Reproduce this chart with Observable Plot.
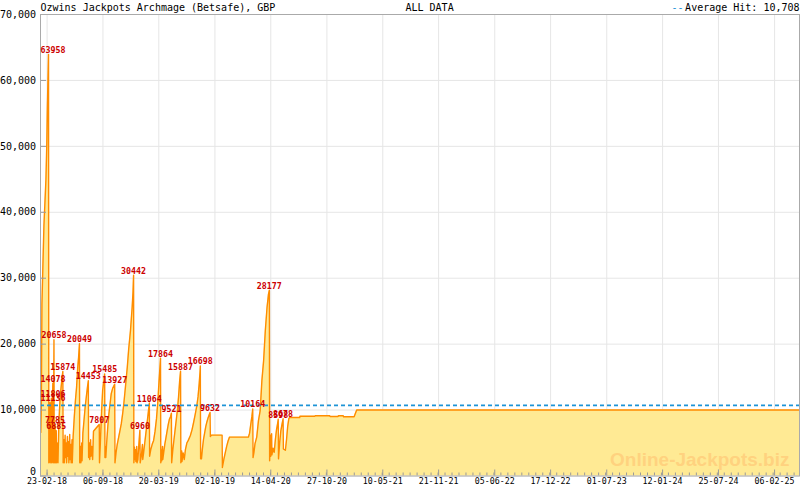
<!DOCTYPE html>
<html><head><meta charset="utf-8">
<script src="https://cdn.jsdelivr.net/npm/d3@7"></script>
<script src="https://cdn.jsdelivr.net/npm/@observablehq/plot@0.6"></script>
<style>
html,body{margin:0;padding:0;background:#fff;}
#chart svg{display:block;}
</style></head><body><div id="chart"></div>
<script>
const title = "Ozwins Jackpots Archmage (Betsafe), GBP";
const periodLabel = "ALL DATA";
const avgLabel = "Average Hit: 10,708";
const avgHit = 10708;
const watermark = "Online-Jackpots.biz";
const xDomain = ["2018-01-31", "2025-05-04"];
const yTicks = [0, 10000, 20000, 30000, 40000, 50000, 60000, 70000];
const xTickLabels = ["23-02-18","06-09-18","20-03-19","02-10-19","14-04-20","27-10-20","10-05-21","21-11-21","05-06-22","17-12-22","01-07-23","12-01-24","25-07-24","06-02-25"];

const dates = [
"2018-02-01","2018-02-03","2018-02-05","2018-02-09","2018-02-12","2018-02-16","2018-02-19","2018-02-22","2018-02-24","2018-02-26",
"2018-02-28","2018-03-01","2018-03-05","2018-03-06","2018-03-10","2018-03-11","2018-03-15","2018-03-16","2018-03-18","2018-03-19",
"2018-03-20","2018-03-23","2018-03-24","2018-03-27","2018-03-28","2018-04-01","2018-04-02","2018-04-05","2018-04-09","2018-04-13",
"2018-04-16","2018-04-19","2018-04-20","2018-04-23","2018-04-24","2018-04-27","2018-04-28","2018-05-01","2018-05-02","2018-05-05",
"2018-05-06","2018-05-09","2018-05-10","2018-05-13","2018-05-14","2018-05-17","2018-05-18","2018-05-21","2018-05-22","2018-05-25",
"2018-05-29","2018-06-02","2018-06-06","2018-06-10","2018-06-13","2018-06-16","2018-06-17","2018-06-20","2018-06-21","2018-06-24",
"2018-06-25","2018-06-28","2018-07-02","2018-07-06","2018-07-10","2018-07-14","2018-07-17","2018-07-18","2018-07-21","2018-07-22",
"2018-07-25","2018-07-26","2018-07-29","2018-08-01","2018-08-04","2018-08-12","2018-08-18","2018-08-24","2018-08-25","2018-08-28",
"2018-09-01","2018-09-05","2018-09-12","2018-09-13","2018-09-15","2018-09-16","2018-09-19","2018-09-23","2018-09-27","2018-10-01",
"2018-10-05","2018-10-10","2018-10-17","2018-10-18","2018-10-22","2018-10-26","2018-10-31","2018-11-05","2018-11-09","2018-11-14",
"2018-11-18","2018-11-24","2018-11-30","2018-12-05","2018-12-11","2018-12-17","2018-12-20","2018-12-22","2018-12-23","2018-12-25",
"2018-12-26","2018-12-29","2018-12-30","2019-01-02","2019-01-03","2019-01-06","2019-01-09","2019-01-13","2019-01-14","2019-01-18",
"2019-01-22","2019-01-23","2019-01-26","2019-01-30","2019-02-03","2019-02-07","2019-02-11","2019-02-15","2019-02-16","2019-02-20",
"2019-02-25","2019-03-02","2019-03-07","2019-03-12","2019-03-17","2019-03-21","2019-03-24","2019-03-26","2019-03-27","2019-03-29",
"2019-03-30","2019-04-02","2019-04-03","2019-04-06","2019-04-10","2019-04-14","2019-04-18","2019-04-22","2019-04-26","2019-04-30",
"2019-05-03","2019-05-04","2019-05-08","2019-05-12","2019-05-16","2019-05-20","2019-05-24","2019-05-28","2019-06-01","2019-06-04",
"2019-06-05","2019-06-08","2019-06-09","2019-06-13","2019-06-17","2019-06-21","2019-06-26","2019-07-01","2019-07-08","2019-07-14",
"2019-07-19","2019-07-25","2019-07-31","2019-08-04","2019-08-08","2019-08-11","2019-08-12","2019-08-13","2019-08-15","2019-08-16",
"2019-08-19","2019-08-23","2019-08-27","2019-08-31","2019-09-04","2019-09-08","2019-09-12","2019-09-15","2019-09-16","2019-09-20",
"2019-10-27","2019-10-28","2019-11-02","2019-11-07","2019-11-12","2019-11-17","2019-11-22","2020-01-27","2020-01-31","2020-02-04",
"2020-02-08","2020-02-11","2020-02-12","2020-02-15","2020-02-19","2020-02-25","2020-03-02","2020-03-08","2020-03-14","2020-03-20",
"2020-03-26","2020-04-01","2020-04-06","2020-04-09","2020-04-10","2020-04-13","2020-04-14","2020-04-17","2020-04-18","2020-04-22",
"2020-04-26","2020-04-30","2020-05-04","2020-05-08","2020-05-10","2020-05-11","2020-05-15","2020-05-19","2020-05-23","2020-05-27",
"2020-05-28","2020-06-04","2020-06-08","2020-06-12","2020-06-16","2020-06-19","2020-07-24","2020-07-25","2020-09-15","2020-09-16",
"2020-11-06","2020-11-07","2020-12-05","2020-12-06","2020-12-23","2020-12-24","2021-01-30","2021-02-08","2025-05-04"
];
const values = [
6600,11000,26000,33000,38000,42000,45000,50400,56000,60000,
63958,2000,11136,2000,11806,2000,14078,2000,12000,20658,
2000,7785,2000,6885,2000,5000,2000,8000,11500,13500,
14800,15874,2000,5500,2000,6200,2800,5000,2000,6000,
3000,5200,2000,6300,2500,4800,2000,5500,2000,6000,
9000,11500,13500,16500,18000,20049,2000,4500,2000,5000,
2300,6500,8500,10500,12000,13500,14453,2800,5000,2500,
5500,3000,4500,2500,6800,7200,7500,7807,2000,5000,
9500,13000,15485,2800,4500,2800,5000,7500,9500,11000,
12500,13300,13927,2000,3600,4800,5900,7000,7900,9500,
11000,13700,16500,19300,22000,25600,27900,30442,2000,4400,
2500,4000,2200,4500,2000,2500,4500,6960,2000,3000,
4800,2500,3500,5000,6500,8000,9500,11064,3000,4000,
4800,5400,6800,8700,11500,14500,16500,17864,2000,4000,
2300,4500,2500,3500,4800,5800,6800,7800,8600,9000,
9521,2000,4000,5500,7000,8500,10000,12000,14500,15887,
2000,3800,2200,3500,2500,4000,5000,5400,6100,7000,
8000,9300,10700,12000,14000,15800,16698,2600,3500,2600,
4000,5500,6500,7500,8200,8800,9300,9632,6000,6200,
6200,1300,2500,3500,4500,5300,5900,5900,6500,7800,
9000,10164,2800,3500,4900,5900,8400,9900,14500,17500,
22100,25600,27600,28177,2300,6200,3000,6400,3200,4200,
3600,5500,7000,8000,8598,2600,5000,6800,7800,8678,
4100,3900,5500,7500,8700,8870,8870,9070,9070,9130,
9130,9030,9030,9130,9130,8980,8980,10000,10000
];
const hitValues = [63958,11136,11806,14078,20658,7785,6885,15874,20049,14453,7807,15485,13927,30442,6960,11064,17864,9521,15887,16698,9632,10164,28177,8598,8678];

const parse = d3.utcParse("%Y-%m-%d");
const parseTick = d3.utcParse("%d-%m-%y");
const series = dates.map((d, i) => ({date: parse(d), value: values[i]}));
const hits = hitValues.map(v => series.find(p => p.value === v));
const xd = xDomain.map(parse);
const majorTicks = xTickLabels.map(parseTick);
const minorStep = (majorTicks[1] - majorTicks[0]) / 8;
const minorTicks = [];
for (let t = +majorTicks[0]; t <= +xd[1]; t += minorStep) minorTicks.push(new Date(t));

const mono = "'DejaVu Sans Mono', monospace";
const avgColor = "#1e94d6";
const chart = Plot.plot({
  width: 800, height: 490,
  marginLeft: 40, marginRight: 1, marginTop: 14, marginBottom: 14.5,
  style: {fontFamily: mono, fontSize: "10px", background: "#fff", color: "#000"},
  x: {type: "utc", domain: xd},
  y: {domain: [0, 70000]},
  marks: [
    Plot.gridY(yTicks, {stroke: "#e6e6e6", strokeOpacity: 1}),
    Plot.gridX(majorTicks, {stroke: "#e6e6e6", strokeOpacity: 1}),
    Plot.areaY(series, {x: "date", y: "value", fill: "#ffea94"}),
    Plot.text([watermark], {frameAnchor: "bottom-right", textAnchor: "end", lineAnchor: "bottom", dx: -10, dy: -10, fontSize: 19, fontWeight: "bold", fontFamily: "'Liberation Sans', Arial, sans-serif", fill: "#ffd27f"}),
    Plot.lineY(series, {x: "date", y: "value", stroke: "#ff8c00", strokeWidth: 1.4}),
    Plot.ruleY([avgHit], {stroke: avgColor, strokeDasharray: "4,3", strokeWidth: 1.6}),
    Plot.axisX(minorTicks, {tickSize: -3, stroke: "#999", fill: "none", label: null}),
    Plot.axisX(majorTicks, {tickSize: -6, stroke: "#999", fill: "none", label: null}),
    Plot.axisX(majorTicks, {tickSize: 0, tickPadding: 2, tickFormat: d3.utcFormat("%d-%m-%y"), fontSize: 8.3, label: null}),
    Plot.axisY(yTicks, {tickSize: -6, stroke: "#999", fill: "none", label: null}),
    Plot.axisY(yTicks.filter(t => t > 0), {tickSize: 0, tickPadding: 4.5, tickFormat: d3.format(","), fontSize: 10, label: null}),
    Plot.axisY([0], {tickSize: 0, tickPadding: 4.5, tickFormat: d3.format(","), fontSize: 10, dy: -4, label: null}),
    Plot.frame({stroke: "#aaa"}),
    Plot.text(hits, {x: "date", y: "value", text: d => String(d.value), fill: "#cc0000", fontSize: 8.3, fontWeight: "bold", lineAnchor: "bottom", dy: -1.5}),
    Plot.text([title], {frameAnchor: "top-left", textAnchor: "start", lineAnchor: "middle", dy: -7, fontSize: 10, fill: "#000"}),
    Plot.text([periodLabel], {frameAnchor: "top-left", textAnchor: "start", lineAnchor: "middle", dx: 365, dy: -7, fontSize: 10, fill: "#000"}),
    Plot.text(["--"], {frameAnchor: "top-right", textAnchor: "end", lineAnchor: "middle", dx: -116, dy: -7, fontSize: 10, fill: avgColor}),
    Plot.text([avgLabel], {frameAnchor: "top-right", textAnchor: "end", lineAnchor: "middle", dy: -7, fontSize: 10, fill: "#000"})
  ]
});
document.getElementById("chart").appendChild(chart);

// keep peak labels inside the plot's left edge
const hitStrings = new Set(hitValues.map(String));
const svgLeft = chart.getBoundingClientRect().left;
chart.querySelectorAll("text").forEach(el => {
  if (!hitStrings.has(el.textContent)) return;
  const left = el.getBoundingClientRect().left - svgLeft;
  if (left < 40.5) {
    const t = el.getAttribute("transform") || "";
    el.setAttribute("transform", t + ` translate(${40.5 - left},0)`);
  }
});
</script></body></html>
